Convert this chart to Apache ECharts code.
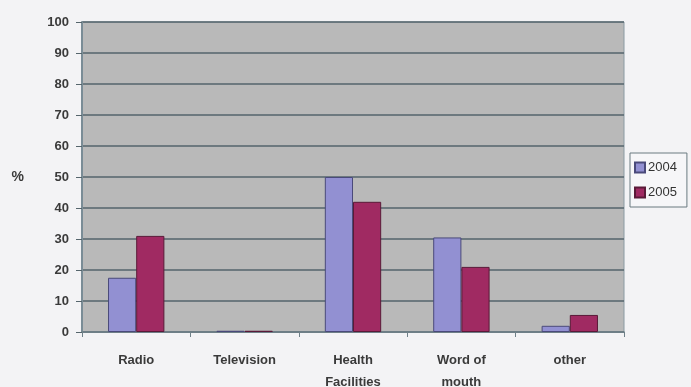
<!DOCTYPE html>
<html>
<head>
<meta charset="utf-8">
<script src="https://cdn.jsdelivr.net/npm/echarts@6/dist/echarts.min.js"></script>
<style>
  html, body { margin: 0; padding: 0; background: #f3f3f5; }
  #chart { width: 691px; height: 387px; }
</style>
</head>
<body>
<div id="chart"></div>
<script>
// Source of information, share of respondents (%)
const categories = ['Radio', 'Television', 'Health\nFacilities', 'Word of\nmouth', 'other'];
const seriesNames = ['2004', '2005'];
const values2004 = [17.5, 0.4, 50, 30.5, 2];
const values2005 = [31, 0.4, 42, 21, 5.5];
const yTicks = { min: 0, max: 100, interval: 10 };

const chart = echarts.init(document.getElementById('chart'));
const labelFont = { fontFamily: 'Liberation Sans, Arial, sans-serif', fontWeight: 'bold', color: '#3a3a3a' };

chart.setOption({
  backgroundColor: '#f3f3f5',
  animation: false,
  grid: {
    left: 82, right: 67, top: 22, bottom: 55,
    containLabel: false,
    outerBoundsMode: 'none',
    show: true,
    backgroundColor: '#b9b9b9',
    borderColor: '#8a9aa2',
    borderWidth: 1
  },
  legend: {
    data: seriesNames,
    orient: 'vertical',
    left: 630, top: 153,
    itemWidth: 10, itemHeight: 10, itemGap: 12,
    padding: [8, 10, 8, 4],
    borderColor: '#6a7a80', borderWidth: 1,
    backgroundColor: '#f6f6f8',
    textStyle: { fontSize: 13, fontFamily: 'Liberation Sans, Arial, sans-serif', color: '#333', padding: [0, 0, 0, -2] },
    icon: 'rect'
  },
  xAxis: {
    type: 'category',
    data: categories,
    axisLine: { lineStyle: { color: '#6f8088', width: 1.5 } },
    axisTick: { show: true, length: 5, lineStyle: { color: '#6f8088' } },
    axisLabel: { ...labelFont, fontSize: 13, margin: 17, lineHeight: 22 }
  },
  yAxis: {
    type: 'value',
    min: yTicks.min, max: yTicks.max, interval: yTicks.interval,
    name: '%',
    nameLocation: 'middle',
    nameGap: 58,
    nameRotate: 0,
    nameTextStyle: { ...labelFont, fontSize: 14 },
    axisLine: { show: true, lineStyle: { color: '#7a8c96', width: 2 } },
    axisTick: { show: true, length: 6, lineStyle: { color: '#55656c' } },
    splitLine: { lineStyle: { color: '#55656c', width: 1.5 } },
    axisLabel: { ...labelFont, fontSize: 13, margin: 13 }
  },
  series: [
    {
      name: seriesNames[0], type: 'bar', data: values2004,
      barGap: '0%', barCategoryGap: '48%',
      itemStyle: { color: '#9290d2', borderColor: '#4a4a7a', borderWidth: 1 }
    },
    {
      name: seriesNames[1], type: 'bar', data: values2005,
      itemStyle: { color: '#a02a62', borderColor: '#5a1a38', borderWidth: 1 }
    }
  ]
});
</script>
</body>
</html>
